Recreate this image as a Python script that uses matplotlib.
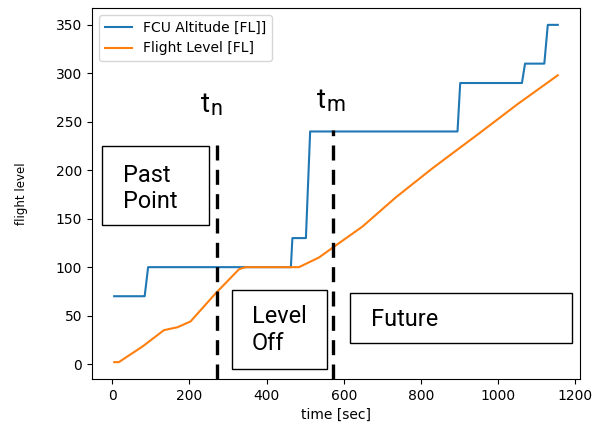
import matplotlib
matplotlib.use('Agg')
import matplotlib.pyplot as plt
from matplotlib.patches import Rectangle

# FCU Altitude (stepped) [time in sec, flight level]
fcu_time = [5, 84, 93, 463, 467, 502, 513, 895, 902, 1062, 1070, 1120, 1129, 1155]
fcu_alt = [70, 70, 100, 100, 130, 130, 240, 240, 290, 290, 310, 310, 350, 350]

# actual flight level
fl_time = [5, 17, 78, 134, 169, 203, 268, 329, 346, 484, 536, 571, 649, 735, 830, 951, 1050, 1155]
fl_level = [2, 2, 18, 35, 38, 44, 73, 98, 100, 100, 110, 120, 142, 172, 202, 238, 268, 298]

# marker times and where the dashed line stops at the top
marker_time = [272, 571]
marker_top = [233, 242]

W, H = 610, 430


def px(x, y):
    # pixel position (from top left) -> figure fraction
    return x / W, 1 - y / H


fig = plt.figure(figsize=(W / 100, H / 100), dpi=100)
ax = fig.add_axes([92 / W, 1 - 379 / H, (580 - 92) / W, (379 - 8) / H])

ax.plot(fcu_time, fcu_alt, label='FCU Altitude [FL]]')
ax.plot(fl_time, fl_level, label='Flight Level [FL]')
ax.set_xlabel('time [sec]', fontsize=10)
ax.set_ylabel('flight level', fontsize=8.5, labelpad=20)
ax.tick_params(labelsize=10)
ax.legend(loc='upper left', fontsize=10)

# dashed vertical markers t_n / t_m
y0, y1 = ax.get_ylim()
for t, top in zip(marker_time, marker_top):
    ax.axvline(t, ymin=0, ymax=(top - y0) / (y1 - y0), color='black',
               lw=2.4, linestyle=(0, (4.5, 2.8)))

# overlay annotations (boxes and labels)
font = 'Roboto'
boxes = [(102, 146, 209, 225), (232, 290, 327, 369), (350, 293, 572, 343)]
for x0, yt, x1, yb in boxes:
    fig.patches.append(Rectangle(px(x0, yb), (x1 - x0) / W, (yb - yt) / H,
                                 transform=fig.transFigure, fill=False,
                                 edgecolor='black', lw=1))

lines = [('Past', 123, 182), ('Point', 123, 208),
         ('Level', 252, 323), ('Off', 252, 350),
         ('Future', 371, 326)]
for s, x, y in lines:
    fig.text(*px(x, y), s, family=font, fontsize=16.9, ha='left', va='baseline')

fig.text(*px(201, 112), 't', family=font, fontsize=20, ha='left', va='baseline')
fig.text(*px(210, 115), 'n', family=font, fontsize=15.5, ha='left', va='baseline')
fig.text(*px(317, 108.5), 't', family=font, fontsize=20, ha='left', va='baseline')
fig.text(*px(326, 111), 'm', family=font, fontsize=15.5, ha='left', va='baseline')

fig.savefig('out.png', dpi=100)
